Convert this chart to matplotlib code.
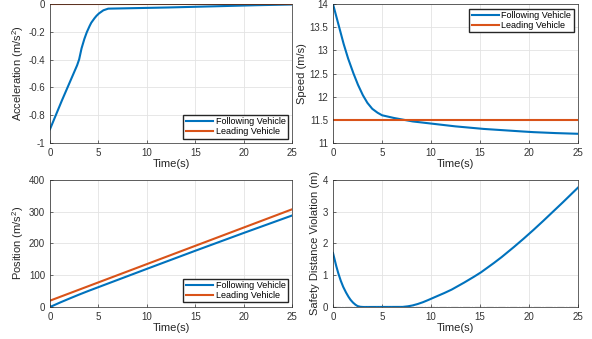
import numpy as np
import matplotlib
matplotlib.use("Agg")
import matplotlib.pyplot as plt

plt.rcParams['font.family'] = ['Liberation Sans', 'DejaVu Sans']
plt.rcParams['mathtext.default'] = 'regular'

BLUE = '#0072BD'
ORANGE = '#D95319'

# acceleration (m/s^2)
t_acc = [0, 1, 2, 2.8, 3, 3.25, 3.5, 3.75, 4, 4.25, 4.5, 4.75, 5, 5.5, 6, 10, 15, 20, 25]
acc_follow = [-0.9, -0.73, -0.57, -0.44, -0.40, -0.32, -0.26, -0.21, -0.17, -0.135, -0.11,
              -0.088, -0.07, -0.045, -0.033, -0.028, -0.02, -0.01, -0.003]
acc_lead = [0, 0]
t_lead = [0, 25]

# speed (m/s)
t_spd = [0, 0.5, 1, 1.5, 2, 2.5, 3, 3.5, 4, 4.5, 5, 6, 7, 8, 10, 12, 15, 18, 20, 22, 25]
spd_follow = [14, 13.6, 13.2, 12.85, 12.55, 12.28, 12.05, 11.87, 11.74, 11.66, 11.6, 11.55,
              11.51, 11.47, 11.42, 11.37, 11.31, 11.27, 11.24, 11.22, 11.2]
spd_lead = [11.5, 11.5]

# position
t_pos = [0, 1, 2, 3, 4, 5, 10, 15, 20, 25]
pos_follow = [0, 13.6, 26.5, 39, 51, 62.5, 120, 177, 233, 288]
pos_lead = [20, 31.5, 43, 54.5, 66, 77.5, 135, 192.5, 250, 307.5]

# safety distance violation (m)
t_sdv = [0, 0.25, 0.5, 0.75, 1, 1.25, 1.5, 1.75, 2, 2.25, 2.5, 2.75, 3, 7, 7.5, 8, 8.5, 9,
         9.5, 10, 11, 12, 13, 14, 15, 16, 17, 18, 19, 20, 21, 22, 23, 24, 25]
sdv = [1.7, 1.38, 1.1, 0.86, 0.66, 0.5, 0.36, 0.24, 0.15, 0.08, 0.03, 0.008, 0, 0, 0.015,
       0.04, 0.08, 0.13, 0.19, 0.26, 0.39, 0.53, 0.7, 0.88, 1.07, 1.29, 1.52, 1.77, 2.03, 2.3,
       2.58, 2.87, 3.16, 3.46, 3.76]


def interp(t, y):
    tt = np.linspace(t[0], t[-1], 600)
    return tt, np.interp(tt, t, y)


fig = plt.figure(figsize=(5.92, 3.39), dpi=100)
ax1 = fig.add_axes([0.0845, 0.578, 0.409, 0.41])
ax2 = fig.add_axes([0.5625, 0.578, 0.414, 0.41])
ax3 = fig.add_axes([0.0845, 0.0944, 0.409, 0.375])
ax4 = fig.add_axes([0.5625, 0.0944, 0.414, 0.375])

for ax in (ax1, ax2, ax3, ax4):
    ax.set_xlim(0, 25)
    ax.set_xticks([0, 5, 10, 15, 20, 25])
    ax.grid(True, color='#e3e3e3', linewidth=0.6)
    ax.set_axisbelow(True)
    ax.tick_params(direction='in', labelsize=7, colors='#333333', length=2.5, width=0.5)
    for s in ax.spines.values():
        s.set_linewidth(0.5)
        s.set_color('#262626')
    ax.set_xlabel('Time(s)', fontsize=8, labelpad=1, color='#262626')

lw = 1.5
leg_kw = dict(fontsize=6.5, frameon=True, fancybox=False, edgecolor='#262626', framealpha=1,
              handlelength=3.0, borderpad=0.25, labelspacing=0.15, handletextpad=0.3)

ax1.plot(*interp(t_acc, acc_follow), color=BLUE, lw=lw, label='Following Vehicle')
ax1.plot(t_lead, acc_lead, color=ORANGE, lw=lw, label='Leading Vehicle')
ax1.set_ylim(-1, 0)
ax1.set_yticks([-1, -0.8, -0.6, -0.4, -0.2, 0])
ax1.set_yticklabels(['-1', '-0.8', '-0.6', '-0.4', '-0.2', '0'])
ax1.set_ylabel('Acceleration (m/s$^2$)', fontsize=8, labelpad=2, color='#262626')
ax1.legend(loc='lower right', **leg_kw)

ax2.plot(*interp(t_spd, spd_follow), color=BLUE, lw=lw, label='Following Vehicle')
ax2.plot(t_lead, spd_lead, color=ORANGE, lw=lw, label='Leading Vehicle')
ax2.set_ylim(11, 14)
ax2.set_yticks([11, 11.5, 12, 12.5, 13, 13.5, 14])
ax2.set_yticklabels(['11', '11.5', '12', '12.5', '13', '13.5', '14'])
ax2.set_ylabel('Speed (m/s)', fontsize=8, labelpad=2, color='#262626')
ax2.legend(loc='upper right', **leg_kw)

ax3.plot(t_pos, pos_follow, color=BLUE, lw=lw, label='Following Vehicle')
ax3.plot(t_pos, pos_lead, color=ORANGE, lw=lw, label='Leading Vehicle')
ax3.set_ylim(0, 400)
ax3.set_yticks([0, 100, 200, 300, 400])
ax3.set_ylabel('Position (m/s$^2$)', fontsize=8, labelpad=2, color='#262626')
ax3.legend(loc='lower right', **leg_kw)

ax4.plot(*interp(t_sdv, sdv), color=BLUE, lw=lw)
ax4.plot(t_lead, [0, 0], color='black', lw=0.8, linestyle='-.')
ax4.set_ylim(0, 4)
ax4.set_yticks([0, 1, 2, 3, 4])
ax4.set_ylabel('Safety Distance Violation (m)', fontsize=8, labelpad=2, color='#262626')

fig.savefig('out.png', dpi=100)
